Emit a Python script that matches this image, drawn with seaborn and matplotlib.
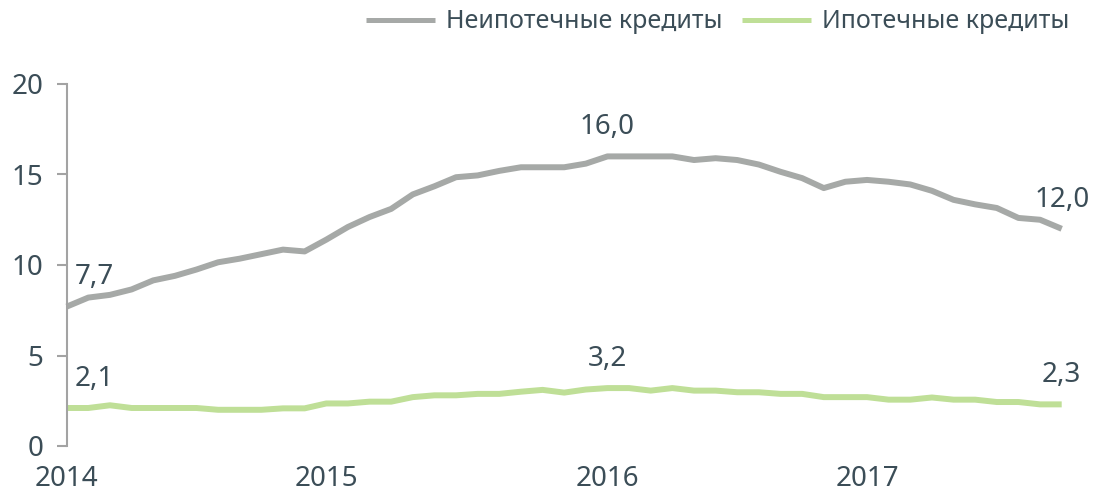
import matplotlib
matplotlib.use("Agg")
import matplotlib.pyplot as plt
from matplotlib.lines import Line2D
import numpy as np
import pandas as pd
import seaborn as sns

# ---- data (monthly) ----
nonmortgage = [7.7, 8.2, 8.35, 8.65, 9.15, 9.4, 9.75, 10.15, 10.35, 10.6, 10.85, 10.75,
               11.4, 12.1, 12.65, 13.1, 13.9, 14.35, 14.85, 14.95, 15.2, 15.4, 15.4, 15.4,
               15.6, 16.0, 16.0, 16.0, 16.0, 15.8, 15.9, 15.8, 15.55, 15.15, 14.8, 14.25,
               14.6, 14.7, 14.6, 14.45, 14.1, 13.6, 13.35, 13.15, 12.6, 12.5, 12.0]
mortgage = [2.1, 2.1, 2.25, 2.1, 2.1, 2.1, 2.1, 2.0, 2.0, 2.0, 2.08, 2.08,
            2.35, 2.35, 2.45, 2.45, 2.7, 2.8, 2.8, 2.88, 2.88, 3.0, 3.1, 2.95,
            3.12, 3.2, 3.2, 3.06, 3.2, 3.06, 3.06, 2.97, 2.97, 2.88, 2.88, 2.7,
            2.7, 2.7, 2.56, 2.56, 2.68, 2.56, 2.56, 2.43, 2.43, 2.3, 2.3]
series_names = ["Неипотечные кредиты", "Ипотечные кредиты"]
year_labels = ["2014", "2015", "2016", "2017"]
year_positions = [0, 12, 25, 37]
value_labels_nonmortgage = {0: "7,7", 25: "16,0", 46: "12,0"}
value_labels_mortgage = {0: "2,1", 25: "3,2", 46: "2,3"}

GRAY = "#a6a9a7"
GREEN = "#bfdf97"
TEXT = "#3b4d57"
AXIS = "#a3a3a3"

n = len(nonmortgage)
df = pd.DataFrame({
    "period": list(range(n)) * 2,
    "value": nonmortgage + mortgage,
    "series": [series_names[0]] * n + [series_names[1]] * n,
})

sns.set_theme(style="white")
plt.rcParams["font.family"] = ["Noto Sans", "DejaVu Sans"]

W, H = 1095, 493
fig = plt.figure(figsize=(W / 100, H / 100), dpi=100)
ax = fig.add_axes([66.7 / W, 47 / H, 995 / W, 362 / H])

sns.lineplot(data=df, x="period", y="value", hue="series",
             palette=[GRAY, GREEN], linewidth=4.3, ax=ax, legend=False)
for line in ax.get_lines():
    line.set_clip_on(False)
    line.set_solid_capstyle("butt")

ax.set_xlim(0, n - 1)
ax.set_ylim(0, 20)
ax.set_yticks([0, 5, 10, 15, 20])
ax.set_xticks(year_positions)
ax.set_xticklabels(year_labels)
ax.set_xlabel("")
ax.set_ylabel("")

for s in ["top", "right", "bottom"]:
    ax.spines[s].set_visible(False)
ax.spines["left"].set_color(AXIS)
ax.spines["left"].set_linewidth(1.5)

ax.tick_params(axis="y", which="both", left=True, length=7, width=1.5,
               color=AXIS, direction="out", pad=10, labelsize=20, labelcolor=TEXT)
ax.tick_params(axis="x", which="both", bottom=False, length=0, pad=14,
               labelsize=20, labelcolor=TEXT)

def put_labels(values, labels):
    for i, txt in labels.items():
        if i == 0:
            ax.annotate(txt, (i, values[i]), xytext=(6, 21), textcoords="offset points",
                        ha="left", va="center", fontsize=20, color=TEXT)
        else:
            ax.annotate(txt, (i, values[i]), xytext=(0, 21), textcoords="offset points",
                        ha="center", va="center", fontsize=20, color=TEXT)

put_labels(nonmortgage, value_labels_nonmortgage)
put_labels(mortgage, value_labels_mortgage)

handles = [Line2D([], [], color=GRAY, linewidth=3.6, solid_capstyle="butt"),
           Line2D([], [], color=GREEN, linewidth=3.6, solid_capstyle="butt")]
fig.legend(handles, series_names, loc="center right",
           bbox_to_anchor=(1069 / W, 1 - 22 / H),
           ncol=2, frameon=False, fontsize=18, handlelength=2.75, handletextpad=0.43,
           columnspacing=0.8, borderpad=0, borderaxespad=0, labelcolor=TEXT)

fig.savefig("out.png", dpi=100)
